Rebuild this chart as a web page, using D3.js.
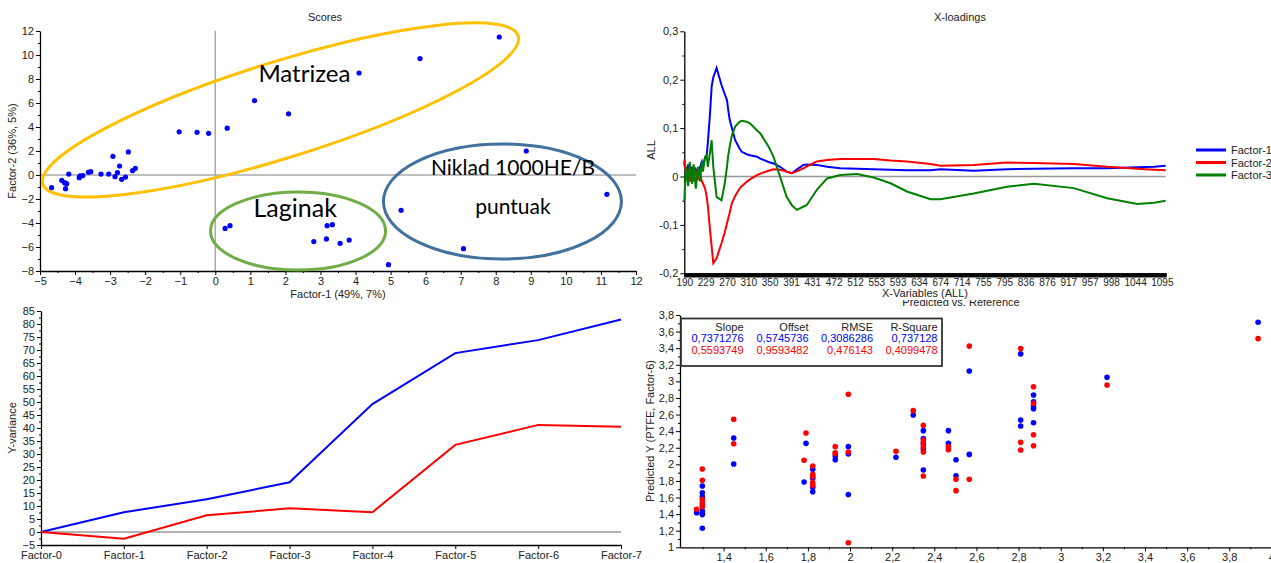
<!DOCTYPE html>
<html>
<head>
<meta charset="utf-8">
<script src="https://cdn.jsdelivr.net/npm/d3@7"></script>
<style>
  body { margin: 0; background: #fff; }
  svg { display: block; font-family: "Liberation Sans", Arial, sans-serif; }
  .tick text { font-size: 11px; fill: #222; }
  .xl .tick text { font-size: 10px; }
  .domain { stroke: #000; stroke-width: 1.3; }
  .lbl { font-size: 11px; fill: #222; }
</style>
</head>
<body>
<div id="chart"></div>
<script>
// ---- Scores (Factor-1 / Factor-2) ----
const scoreF1 = [-1.03, -0.52, -0.19, 0.34, 1.12, 2.09, 8.1, 5.84, 4.1,
  -4.67, -4.38, -4.3, -4.24, -4.27, -4.18, -3.88, -3.86, -3.78, -3.62, -3.55, -3.26, -3.04,
  -2.92, -2.48, -2.79, -2.73, -2.86, -2.67, -2.56, -2.36, -2.28,
  0.28, 0.42, 2.81, 3.19, 3.34, 3.17, 3.56, 3.82,
  4.94, 5.3, 7.08, 8.87, 11.17];
const scoreF2 = [3.6, 3.56, 3.47, 3.9, 6.2, 5.1, 11.5, 9.7, 8.5,
  -1.06, -0.44, -0.64, -0.72, -1.14, 0.08, -0.22, -0.08, -0.05, 0.22, 0.28, 0.08, 0.08,
  1.56, 1.92, 0.2, 0.75, -0.14, -0.36, -0.17, 0.36, 0.56,
  -4.45, -4.22, -5.55, -4.22, -4.14, -5.33, -5.69, -5.42,
  -7.47, -2.94, -6.14, 2.0, -1.61];

// ---- X-loadings ----
const loadIdx = [0, 3, 7, 10, 14, 17, 21, 25, 29, 32, 34, 38, 41,
  43, 47, 50, 53, 59, 68, 74, 78, 80, 83, 87, 93,
  101, 105, 114, 120, 133, 139, 154, 163, 175, 187, 197, 206,
  218, 224, 242, 261, 285, 316, 346, 377, 407, 450, 468,
  529, 590, 639, 712, 773, 828, 859, 880];
const loadF1 = [0.03, 0.0, 0.025, -0.01, 0.02, 0.0, 0.015, 0.005, 0.02, 0.03, 0.02, 0.04, 0.045,
  0.069, 0.13, 0.186, 0.205, 0.224, 0.189, 0.17, 0.158, 0.14, 0.117, 0.1, 0.075,
  0.058, 0.051, 0.046, 0.044, 0.041, 0.037, 0.03, 0.027, 0.02, 0.01, 0.007, 0.015,
  0.024, 0.025, 0.024, 0.02, 0.017, 0.016, 0.015, 0.014, 0.013, 0.013, 0.015,
  0.012, 0.015, 0.016, 0.017, 0.017, 0.019, 0.02, 0.022];
const loadF2 = [0.035, 0.0, 0.015, -0.01, 0.01, -0.005, 0.01, -0.005, 0.005, -0.01, -0.014, -0.025, -0.042,
  -0.06, -0.11, -0.145, -0.179, -0.169, -0.138, -0.115, -0.097, -0.088, -0.075, -0.055, -0.04,
  -0.025, -0.02, -0.011, -0.006, 0.003, 0.006, 0.012, 0.015, 0.014, 0.01, 0.007, 0.011,
  0.017, 0.021, 0.031, 0.034, 0.036, 0.036, 0.036, 0.033, 0.031, 0.026, 0.022,
  0.024, 0.029, 0.028, 0.026, 0.02, 0.016, 0.014, 0.013];
const loadF3 = [-0.05, 0.02, -0.02, 0.03, -0.015, 0.025, -0.025, 0.02, -0.01, 0.03, 0.01, 0.04, 0.044,
  0.02, 0.05, 0.075, 0.02, -0.042, -0.049, -0.014, 0.02, 0.041, 0.062, 0.085, 0.103,
  0.113, 0.115, 0.113, 0.11, 0.095, 0.089, 0.062, 0.041, 0.0, -0.042, -0.06, -0.069,
  -0.062, -0.059, -0.028, -0.004, 0.003, 0.005, -0.002, -0.014, -0.031, -0.047, -0.047,
  -0.035, -0.021, -0.015, -0.024, -0.045, -0.057, -0.054, -0.05];
const loadLabels = ['190', '229', '270', '310', '350', '391', '431', '472', '512', '553', '593', '634',
  '674', '714', '755', '795', '836', '876', '917', '957', '998', '1044', '1095'];
const loadLabelIdx = [0, 39, 78, 117, 156, 195, 234, 273, 312, 351, 390, 429,
  468, 507, 546, 585, 624, 663, 702, 741, 780, 824, 873];
const loadNames = ['Factor-1', 'Factor-2', 'Factor-3'];

// ---- Y-variance ----
const factors = ['Factor-0', 'Factor-1', 'Factor-2', 'Factor-3', 'Factor-4', 'Factor-5', 'Factor-6', 'Factor-7'];
const varBlue = [0, 7.6, 12.6, 19.1, 49.2, 68.8, 73.8, 81.7];
const varRed = [0, -2.6, 6.4, 9.1, 7.6, 33.5, 41.2, 40.5];

// ---- Predicted vs. Reference ----
const calRef = [1.272, 1.299, 1.299, 1.299, 1.299, 1.299, 1.299, 1.299, 1.448, 1.448, 1.782, 1.791,
  1.823, 1.823, 1.823, 1.823, 1.93, 1.93, 1.992, 1.992, 1.992, 2.218, 2.3,
  2.348, 2.348, 2.348, 2.348, 2.348, 2.467, 2.467, 2.503, 2.503, 2.566, 2.566,
  2.81, 2.81, 2.81, 2.871, 2.871, 2.871, 2.871, 2.871, 3.22, 3.937];
const calPred = [1.417, 1.739, 1.658, 1.61, 1.441, 1.41, 1.394, 1.229, 2.318, 2.004, 1.786, 2.253,
  1.94, 1.832, 1.723, 1.67, 2.1, 2.056, 2.213, 2.125, 1.637, 2.085, 2.595,
  2.406, 2.31, 2.246, 2.184, 1.932, 2.406, 2.254, 2.056, 1.863, 3.125, 2.12,
  3.331, 2.534, 2.462, 2.836, 2.755, 2.703, 2.671, 2.502, 3.049, 3.712];
const valRef = [1.272, 1.299, 1.299, 1.299, 1.299, 1.299, 1.299, 1.448, 1.448, 1.782, 1.791,
  1.823, 1.823, 1.823, 1.823, 1.823, 1.93, 1.93, 1.93, 1.992, 1.992, 1.992, 2.218, 2.3,
  2.348, 2.348, 2.348, 2.348, 2.348, 2.348, 2.467, 2.467, 2.503, 2.503, 2.566, 2.566,
  2.81, 2.81, 2.81, 2.871, 2.871, 2.871, 2.871, 3.22, 3.937];
const valPred = [1.458, 1.944, 1.808, 1.579, 1.538, 1.514, 1.49, 2.543, 2.249, 2.049, 2.378,
  1.98, 1.88, 1.852, 1.779, 1.747, 2.213, 2.14, 2.13, 2.844, 2.149, 1.055, 2.158, 2.647,
  2.47, 2.294, 2.262, 2.21, 2.149, 1.86, 2.213, 2.177, 1.82, 1.683, 3.425, 1.82,
  3.395, 2.265, 2.172, 2.936, 2.735, 2.357, 2.224, 2.956, 3.515];
const statHead = ['Slope', 'Offset', 'RMSE', 'R-Square'];
const statBlue = ['0,7371276', '0,5745736', '0,3086286', '0,737128'];
const statRed = ['0,5593749', '0,9593482', '0,476143', '0,4099478'];

const BLUE = '#0000ff', RED = '#ff0000', GREEN = '#008000';
const comma = v => String(+v.toFixed(3)).replace('.', ',');

const svg = d3.select('#chart').append('svg').attr('width', 1271).attr('height', 563);

// minor ticks + major ticks with labels
function axis(g, scale, orient, pos, majors, minors, fmt) {
  const gen = orient === 'bottom' ? d3.axisBottom : d3.axisLeft;
  const tr = orient === 'bottom' ? `translate(0,${pos})` : `translate(${pos},0)`;
  if (minors) {
    g.append('g').attr('transform', tr)
      .call(gen(scale).tickValues(minors).tickSize(2).tickFormat(''))
      .call(a => a.select('.domain').remove());
  }
  return g.append('g').attr('transform', tr)
    .call(gen(scale).tickValues(majors).tickSize(4).tickSizeOuter(0).tickPadding(2).tickFormat(fmt));
}

function ylabel(g, text, x, y) {
  g.append('text').attr('class', 'lbl').attr('text-anchor', 'middle')
    .attr('transform', `translate(${x},${y}) rotate(-90)`).text(text);
}

// ===== Panel 1: Scores =====
{
  const g = svg.append('g');
  const x = d3.scaleLinear().domain([-5, 12]).range([40, 636]);
  const y = d3.scaleLinear().domain([-8, 12]).range([271, 31]);

  g.append('line').attr('x1', x(0)).attr('x2', x(0)).attr('y1', y(12)).attr('y2', y(-8))
    .attr('stroke', '#a8a8a8').attr('stroke-width', 1.5);
  g.append('line').attr('x1', x(-5)).attr('x2', x(12)).attr('y1', y(0)).attr('y2', y(0))
    .attr('stroke', '#a8a8a8').attr('stroke-width', 1.5);

  axis(g, x, 'bottom', y(-8), d3.range(-5, 13), d3.range(-4.5, 12, 1), d3.format('d'));
  axis(g, y, 'left', x(-5), d3.range(-8, 13, 2), d3.range(-7, 12, 2), d3.format('d'));

  g.selectAll('circle.s').data(scoreF1).enter().append('circle').attr('class', 's')
    .attr('cx', d => x(d)).attr('cy', (d, i) => y(scoreF2[i])).attr('r', 2.6).attr('fill', BLUE);

  g.append('text').attr('class', 'lbl').attr('x', 325).attr('y', 21).attr('text-anchor', 'middle').text('Scores');
  g.append('text').attr('class', 'lbl').attr('x', 338).attr('y', 298).attr('text-anchor', 'middle').text('Factor-1 (49%, 7%)');
  ylabel(g, 'Factor-2 (36%, 5%)', 16, 151);

  const ellipses = [
    { cx: 1.86, cy: 5.42, rx: 249, ry: 48, rot: -17.3, color: '#ffc000' },
    { cx: 2.36, cy: -4.67, rx: 87.5, ry: 39, rot: 0, color: '#70ad47' },
    { cx: 8.19, cy: -2.21, rx: 119, ry: 57.5, rot: 0, color: '#41719c' }
  ];
  ellipses.forEach(e => {
    g.append('ellipse').attr('cx', x(e.cx)).attr('cy', y(e.cy)).attr('rx', e.rx).attr('ry', e.ry)
      .attr('transform', `rotate(${e.rot},${x(e.cx)},${y(e.cy)})`)
      .attr('fill', 'none').attr('stroke', e.color).attr('stroke-width', 3);
  });

  const notes = [
    { t: 'Matrizea', x: 1.23, y: 7.75, size: 24, anchor: 'start' },
    { t: 'Laginak', x: 1.09, y: -3.5, size: 25, anchor: 'start' },
    { t: 'Niklad 1000HE/B', x: 8.49, y: 0.0, size: 21, anchor: 'middle' },
    { t: 'puntuak', x: 8.49, y: -3.25, size: 21, anchor: 'middle' }
  ];
  notes.forEach(n => {
    g.append('text').attr('x', x(n.x)).attr('y', y(n.y)).attr('text-anchor', n.anchor)
      .style('font-family', 'Lato, "Open Sans", sans-serif').style('font-size', n.size + 'px')
      .attr('fill', '#000').text(n.t);
  });
}

// ===== Panel 2: X-loadings =====
{
  const g = svg.append('g');
  const x = d3.scaleLinear().domain([0, 880]).range([684.3, 1165.7]);
  const y = d3.scaleLinear().domain([-0.2, 0.3]).range([273.3, 31.3]);

  g.append('line').attr('x1', x(0)).attr('x2', x(880)).attr('y1', y(0)).attr('y2', y(0))
    .attr('stroke', '#999').attr('stroke-width', 1.3);

  axis(g, y, 'left', x(0), d3.range(-2, 4).map(v => v / 10), d3.range(-1.5, 3, 1).map(v => v / 10), comma);

  // dense variable ticks form the black band
  g.append('g').attr('transform', `translate(0,${y(-0.2)})`)
    .call(d3.axisBottom(x).tickValues(d3.range(0, 881)).tickSize(4).tickSizeOuter(0).tickFormat(''));
  g.append('g').attr('class', 'xl').attr('transform', `translate(0,${y(-0.2)})`)
    .call(d3.axisBottom(x).tickValues(loadLabelIdx).tickSize(4).tickPadding(2)
      .tickFormat((d, i) => loadLabels[i]))
    .call(a => a.select('.domain').remove());

  const series = [loadF1, loadF2, loadF3];
  const colors = [BLUE, RED, GREEN];
  const line = d3.line().x(d => x(d[0])).y(d => y(d[1]));
  series.forEach((s, k) => {
    g.append('path').datum(loadIdx.map((v, i) => [v, s[i]]))
      .attr('d', line).attr('fill', 'none').attr('stroke', colors[k]).attr('stroke-width', 2);
  });

  g.append('text').attr('class', 'lbl').attr('x', 925).attr('y', 297).attr('text-anchor', 'middle').text('X-Variables (ALL)');
  g.append('text').attr('class', 'lbl').attr('x', 960).attr('y', 21).attr('text-anchor', 'middle').text('X-loadings');
  ylabel(g, 'ALL', 655, 150);

  const lg = g.append('g').attr('transform', 'translate(1196,150)');
  loadNames.forEach((n, i) => {
    lg.append('line').attr('x1', 0).attr('x2', 30).attr('y1', i * 12.5).attr('y2', i * 12.5)
      .attr('stroke', colors[i]).attr('stroke-width', 3);
    lg.append('text').attr('class', 'lbl').attr('x', 35).attr('y', i * 12.5 + 4).text(n);
  });
}

// ===== Panel 3: Y-variance =====
{
  const g = svg.append('g');
  const x = d3.scalePoint().domain(factors).range([41, 621]);
  const y = d3.scaleLinear().domain([-5, 85]).range([545, 311]);

  g.append('line').attr('x1', x('Factor-0')).attr('x2', x('Factor-7')).attr('y1', y(0)).attr('y2', y(0))
    .attr('stroke', '#999').attr('stroke-width', 1.3);

  axis(g, x, 'bottom', y(-5), factors, null, d => d);
  axis(g, y, 'left', x('Factor-0'), d3.range(-5, 86, 5), d3.range(-2.5, 85, 5), d3.format('d'));

  const line = d3.line().x((d, i) => x(factors[i])).y(d => y(d));
  g.append('path').datum(varBlue).attr('d', line).attr('fill', 'none').attr('stroke', BLUE).attr('stroke-width', 2);
  g.append('path').datum(varRed).attr('d', line).attr('fill', 'none').attr('stroke', RED).attr('stroke-width', 2);

  ylabel(g, 'Y-variance', 16, 428);
}

// ===== Panel 4: Predicted vs. Reference =====
{
  const g = svg.append('g');
  const x = d3.scaleLinear().domain([1.193, 4]).range([680, 1271.4]);
  const y = d3.scaleLinear().domain([1, 3.8]).range([547.3, 315]);

  svg.append('clipPath').attr('id', 'clipB').append('rect')
    .attr('x', 640).attr('y', 300).attr('width', 631).attr('height', 263);
  g.append('text').attr('class', 'lbl').attr('x', 961).attr('y', 306).attr('text-anchor', 'middle')
    .attr('clip-path', 'url(#clipB)').text('Predicted vs. Reference');

  axis(g, x, 'bottom', y(1), d3.range(14, 41, 2).map(v => v / 10), d3.range(13, 40, 2).map(v => v / 10), comma);
  axis(g, y, 'left', x.range()[0], d3.range(10, 39, 2).map(v => v / 10), d3.range(11, 38, 2).map(v => v / 10), comma);

  g.selectAll('circle.c').data(calRef).enter().append('circle').attr('class', 'c')
    .attr('cx', d => x(d)).attr('cy', (d, i) => y(calPred[i])).attr('r', 2.8).attr('fill', BLUE);
  g.selectAll('circle.v').data(valRef).enter().append('circle').attr('class', 'v')
    .attr('cx', d => x(d)).attr('cy', (d, i) => y(valPred[i])).attr('r', 2.8).attr('fill', RED);

  ylabel(g, 'Predicted Y (PTFE, Factor-6)', 654, 431);

  const box = g.append('g').attr('transform', 'translate(681,318.5)');
  box.append('rect').attr('width', 261).attr('height', 47.5).attr('fill', '#fff')
    .attr('stroke', '#333').attr('stroke-width', 1.8);
  const colX = [62.5, 127.5, 192, 256.5];
  [[statHead, '#222'], [statBlue, BLUE], [statRed, RED]].forEach(([row, c], r) => {
    row.forEach((t, i) => {
      box.append('text').attr('class', 'lbl').attr('x', colX[i]).attr('y', 12 + r * 11.8)
        .attr('text-anchor', 'end').style('fill', c).text(t);
    });
  });
}
</script>
</body>
</html>
